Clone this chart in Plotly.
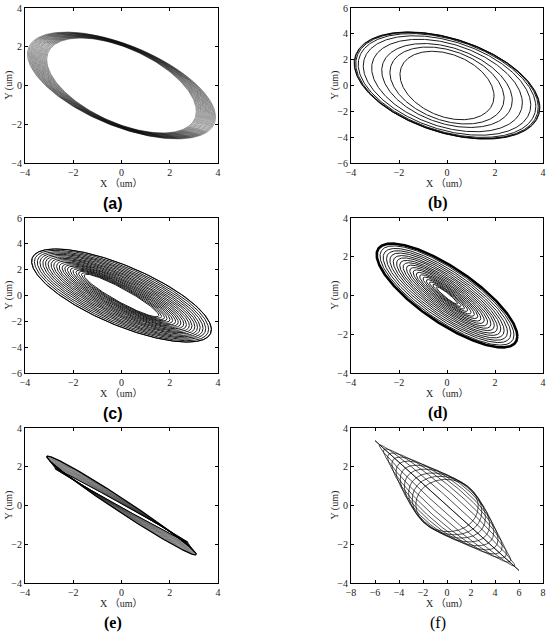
import numpy as np
import plotly.graph_objects as go

W, H = 550, 635

# ---------------- data: orbit rings (x amplitude, y amplitude, phase in degrees) ----------------
AX_A = [3.10, 3.14, 3.18, 3.22, 3.26, 3.30, 3.34, 3.38, 3.42, 3.46, 3.50, 3.54, 3.58, 3.62, 3.66, 3.70, 3.74, 3.78, 3.82, 3.86, 3.90]
AY_A = [2.45, 2.47, 2.48, 2.50, 2.51, 2.53, 2.54, 2.56, 2.57, 2.59, 2.60, 2.62, 2.64, 2.65, 2.67, 2.68, 2.70, 2.71, 2.73, 2.74, 2.76]
PHI_A = [123.0, 123.2, 123.3, 123.5, 123.6, 123.8, 123.9, 124.1, 124.2, 124.4, 124.5, 124.7, 124.8, 125.0, 125.1, 125.3, 125.4, 125.6, 125.7, 125.9, 126.0]

AX_B = [1.96, 2.38, 2.72, 3.14, 3.49, 3.70, 3.80, 3.85, 3.87]
AY_B = [2.65, 2.98, 3.25, 3.58, 3.85, 4.02, 4.10, 4.13, 4.15]
PHI_B = [108.4, 109.7, 110.8, 112.1, 113.2, 113.9, 114.2, 114.4, 114.5]

AX_C = [1.55, 1.66, 1.78, 1.89, 2.01, 2.12, 2.24, 2.35, 2.46, 2.58, 2.69, 2.81, 2.92, 3.04, 3.15, 3.26, 3.38, 3.49, 3.61, 3.72, 3.73]
AY_C = [1.65, 1.75, 1.86, 1.96, 2.06, 2.16, 2.27, 2.37, 2.47, 2.57, 2.68, 2.78, 2.88, 2.98, 3.09, 3.19, 3.29, 3.39, 3.50, 3.60, 3.61]
PHI_C = [159.0, 157.8, 156.7, 155.5, 154.4, 153.2, 152.1, 150.9, 149.7, 148.6, 147.4, 146.3, 145.1, 144.0, 142.8, 141.6, 140.5, 139.3, 138.2, 137.0, 136.8]

AX_D = [0.45, 0.59, 0.73, 0.86, 1.00, 1.14, 1.28, 1.41, 1.55, 1.69, 1.83, 1.97, 2.10, 2.24, 2.38, 2.52, 2.66, 2.79, 2.93]
AY_D = [0.45, 0.57, 0.70, 0.82, 0.95, 1.07, 1.19, 1.32, 1.44, 1.57, 1.69, 1.81, 1.94, 2.06, 2.19, 2.31, 2.43, 2.56, 2.68]
PHI_D = [161.0, 159.9, 158.9, 157.8, 156.7, 155.6, 154.6, 153.5, 152.4, 151.4, 150.3, 149.2, 148.1, 147.1, 146.0, 144.9, 143.8, 142.8, 141.7]

AX_E = [3.10, 3.08, 3.05, 3.03, 3.01, 2.98, 2.96, 2.94, 2.91, 2.89, 2.87, 2.84, 2.82, 2.80, 2.77, 2.75]
AY_E = [2.55, 2.51, 2.46, 2.42, 2.38, 2.33, 2.29, 2.25, 2.20, 2.16, 2.12, 2.07, 2.03, 1.99, 1.94, 1.90]
PHI_E = [171.0, 171.4, 171.8, 172.2, 172.6, 173.0, 173.4, 173.8, 174.2, 174.6, 175.0, 175.4, 175.8, 176.2, 176.6, 177.0]

AX_F = [6.00, 5.65, 5.30, 4.95, 4.60, 4.25, 3.90, 3.55, 3.20, 2.90, 2.60]
AY_F = [3.35, 3.13, 2.92, 2.71, 2.50, 2.29, 2.08, 1.88, 1.68, 1.51, 1.35]
PHI_F = [180.0, 172.0, 164.0, 156.0, 148.0, 140.0, 131.0, 122.0, 112.0, 102.0, 92.0]

X_RANGES = {"a": [-4, 4], "b": [-4, 4], "c": [-4, 4], "d": [-4, 4], "e": [-4, 4], "f": [-8, 8]}
Y_RANGES = {"a": [-4, 4], "b": [-6, 6], "c": [-6, 6], "d": [-4, 4], "e": [-4, 4], "f": [-4, 4]}
PANEL_LABELS = ["(a)", "(b)", "(c)", "(d)", "(e)", "(f)"]
X_TITLE = "X （um）"
Y_TITLE = "Y (um)"

# ---------------- layout geometry (pixels) ----------------
BOX = {"a": (25, 218, 8, 163), "b": (351, 543, 8, 163),
       "c": (25, 218, 218, 373), "d": (351, 543, 218, 373),
       "e": (25, 218, 428, 583), "f": (351, 543, 428, 583)}


def rings(ax, ay, phi):
    t = np.linspace(0, 2 * np.pi, 400)
    xs, ys = [], []
    for a, b, p in zip(ax, ay, phi):
        xs += list(a * np.cos(t)) + [None]
        ys += list(b * np.cos(t + np.radians(p))) + [None]
    return xs, ys


fig = go.Figure()
keys = ["a", "b", "c", "d", "e", "f"]
axis_ids = {k: ("" if i == 0 else str(i + 1)) for i, k in enumerate(keys)}

series = {
    "a": [(AX_A, AY_A, PHI_A, "rgba(0,0,0,0.55)", 0.7)],
    "b": [(AX_B, AY_B, PHI_B, "black", 0.9)],
    "c": [(AX_C, AY_C, PHI_C, "black", 0.9)],
    "d": [(AX_D, AY_D, PHI_D, "black", 0.9), (AX_D[-1:], AY_D[-1:], PHI_D[-1:], "black", 2.6)],
    "e": [(AX_E, AY_E, PHI_E, "rgba(0,0,0,0.45)", 0.8), (AX_E[:1], AY_E[:1], PHI_E[:1], "black", 1.3),
          (AX_E[-1:], AY_E[-1:], PHI_E[-1:], "black", 1.0)],
    "f": [(AX_F, AY_F, PHI_F, "rgba(0,0,0,0.85)", 0.8)],
}

for k in keys:
    aid = axis_ids[k]
    for ax, ay, phi, col, wd in series[k]:
        xs, ys = rings(ax, ay, phi)
        fig.add_trace(go.Scatter(x=xs, y=ys, mode="lines", line=dict(color=col, width=wd),
                                 xaxis="x" + aid, yaxis="y" + aid, showlegend=False, hoverinfo="skip"))

SERIF = "Liberation Serif, Times New Roman, serif"
axis_common = dict(showline=True, linecolor="black", linewidth=1, mirror="ticks", ticks="inside",
                   ticklen=3, tickcolor="black", showgrid=False, zeroline=False, automargin=False,
                   tickfont=dict(family=SERIF, size=10, color="#222"))

annotations = []
label_fonts = {"a": ("Liberation Sans", True), "b": (SERIF, True), "c": ("Liberation Sans", True),
               "d": (SERIF, True), "e": (SERIF, True), "f": (SERIF, False)}
for i, k in enumerate(keys):
    l, r, t, b = BOX[k]
    aid = axis_ids[k]
    xr, yr = X_RANGES[k], Y_RANGES[k]
    fig.layout["xaxis" + aid] = dict(axis_common, domain=[l / W, r / W], range=xr,
                                     tickmode="array", tickvals=list(range(xr[0], xr[1] + 1, 2)),
                                     anchor="y" + aid)
    fig.layout["yaxis" + aid] = dict(axis_common, domain=[1 - b / H, 1 - t / H], range=yr,
                                     tickmode="array", tickvals=list(range(yr[0], yr[1] + 1, 2)),
                                     anchor="x" + aid)
    cx = (l + r) / 2
    cy = (t + b) / 2
    annotations.append(dict(text=X_TITLE, x=cx / W, y=1 - (b + 20) / H, xref="paper", yref="paper",
                            showarrow=False, xanchor="center", yanchor="middle",
                            font=dict(family=SERIF + ", Noto Sans CJK SC", size=10, color="#222")))
    annotations.append(dict(text=Y_TITLE, x=(l - 17) / W, y=1 - cy / H, xref="paper", yref="paper",
                            showarrow=False, xanchor="center", yanchor="middle", textangle=-90,
                            font=dict(family=SERIF, size=10, color="#222")))
    fam, bold = label_fonts[k]
    txt = PANEL_LABELS[i]
    if bold:
        txt = "<b>" + txt + "</b>"
    annotations.append(dict(text=txt, x=(cx - 9) / W, y=1 - (b + 40) / H, xref="paper", yref="paper",
                            showarrow=False, xanchor="center", yanchor="middle",
                            font=dict(family=fam, size=16, color="black")))

fig.update_layout(width=W, height=H, margin=dict(l=0, r=0, t=0, b=0, pad=0, autoexpand=False),
                  paper_bgcolor="white", plot_bgcolor="white", annotations=annotations)

fig.write_html("out.html", config={"displayModeBar": False},
               post_script="document.body.style.margin='0px';")
